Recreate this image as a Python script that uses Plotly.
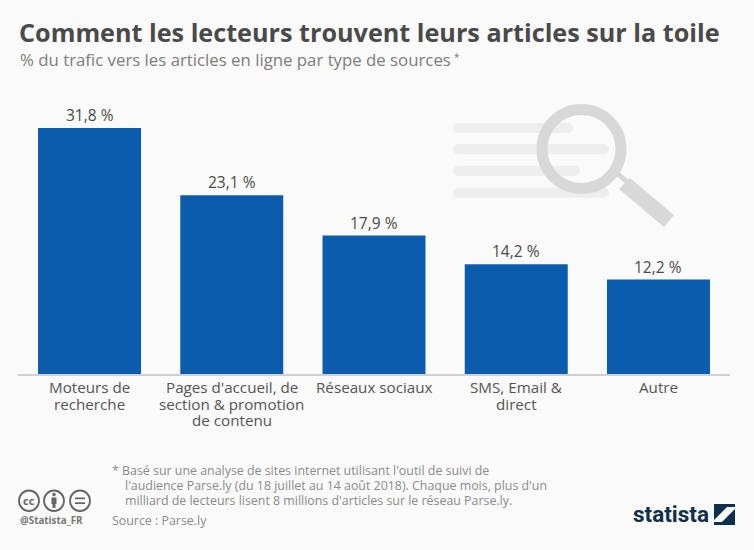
import plotly.graph_objects as go

category_lines = [["Moteurs de", "recherche"], ["Pages d'accueil, de", "section &amp; promotion", "de contenu"],
                  ["Réseaux sociaux"], ["SMS, Email &amp;", "direct"], ["Autre"]]
categories = [" ".join(c) for c in category_lines]
values = [31.8, 23.1, 17.9, 14.2, 12.2]
value_labels = ["31,8 %", "23,1 %", "17,9 %", "14,2 %", "12,2 %"]

W, H = 754, 550
BG = "#fafafa"
FONT = "Open Sans"

def px(x): return x / W
def py(y): return 1 - y / H

fig = go.Figure(go.Bar(
    x=categories, y=values, cliponaxis=False,
    marker=dict(color="#0b5cad", line=dict(width=0)), hoverinfo="skip",
))

shapes = []
def rect(x0, y0, x1, y1, color):
    shapes.append(dict(type="rect", xref="paper", yref="paper", x0=px(x0), x1=px(x1), y0=py(y1), y1=py(y0),
                       fillcolor=color, line=dict(width=0), layer="below"))
def circle(x0, y0, x1, y1, line, width, fill="rgba(0,0,0,0)", layer="below"):
    shapes.append(dict(type="circle", xref="paper", yref="paper", x0=px(x0), x1=px(x1), y0=py(y1), y1=py(y0),
                       fillcolor=fill, line=dict(color=line, width=width), layer=layer))
def seg(x0, y0, x1, y1, color, width, layer="below"):
    shapes.append(dict(type="line", xref="paper", yref="paper", x0=px(x0), x1=px(x1), y0=py(y0), y1=py(y1),
                       line=dict(color=color, width=width), layer=layer))
def poly(pts, color):
    d = "M " + " L ".join(f"{px(a):.5f},{py(b):.5f}" for a, b in pts) + " Z"
    shapes.append(dict(type="path", xref="paper", yref="paper", path=d, fillcolor=color, line=dict(width=0), layer="below"))

# faded text lines behind the magnifier
for y, x1 in [(128, 573), (149, 609), (171, 580), (192.7, 609)]:
    seg(458, y, x1 - 5, y, "#eeeeee", 10)
    circle(453, y - 5, 463, y + 5, "#eeeeee", 0, "#eeeeee")
    circle(x1 - 10, y - 5, x1, y + 5, "#eeeeee", 0, "#eeeeee")
# magnifier
circle(542, 109.5, 621, 188.5, "#d8d8d8", 11)
seg(618, 174, 632, 186, "#d8d8d8", 5)
poly([(630, 178), (674, 215), (664, 227), (619, 189)], "#d8d8d8")

# licence icons
ICON = "#666666"
for cx in (29, 54, 80):
    circle(cx - 10, 490.5, cx + 10, 511, ICON, 1.8)
rect(51.5, 497.5, 56.5, 504, ICON)
rect(52.5, 503, 55.5, 508, ICON)
circle(52.2, 492.8, 55.8, 496.4, ICON, 0, ICON)
rect(75, 497.5, 85, 499.2, ICON)
rect(75, 502.3, 85, 504, ICON)

# logo mark
poly([(714, 504), (735, 504), (735, 507), (727, 507), (720, 514), (714, 520)], "#0f2f4a")
poly([(735, 509), (735, 525), (714, 525), (714, 522), (722, 522), (729, 515)], "#0f2f4a")

def txt(x, y, s, size, color, anchor="left", bold=False, family=FONT, xref="paper"):
    return dict(xref=xref, yref="paper", x=px(x) if xref == "paper" else x, y=py(y),
                text=f"<b>{s}</b>" if bold else s, showarrow=False,
                xanchor=anchor, yanchor="middle", align="left",
                font=dict(family=family, size=size, color=color))

annotations = [
    txt(17, 32, "Comment les lecteurs trouvent leurs articles sur la toile", 25.2, "#4a4a4a", bold=True),
    txt(17.5, 59, "% du trafic vers les articles en ligne par type de sources", 16.8, "#7d7d7d"),
    txt(452, 57, "*", 10, "#7d7d7d"),
    txt(110, 470, "* Basé sur une analyse de sites internet utilisant l'outil de suivi de", 12.4, "#8a8a8a"),
    txt(122.5, 485, "l'audience Parse.ly (du 18 juillet au 14 août 2018). Chaque mois, plus d'un", 12.4, "#8a8a8a"),
    txt(122.5, 500, "milliard de lecteurs lisent 8 millions d'articles sur le réseau Parse.ly.", 12.4, "#8a8a8a"),
    txt(110, 520, "Source : Parse.ly", 12.4, "#8a8a8a"),
    txt(18, 520, "@Statista_FR", 9.8, "#777777", bold=True),
    txt(29, 500.5, "cc", 11, ICON, anchor="center", bold=True),
    txt(631, 514, "statista", 22.5, "#0f2f4a", bold=True, family="Roboto"),
]
# category labels, one line each, so the tight line spacing can be kept
for cat, lines in zip(categories, category_lines):
    for i, line in enumerate(lines):
        annotations.append(txt(cat, 387 + 16.5 * i, line, 15.2, "#555555", anchor="center", xref="x"))
# value labels, placed from the data through the axes
for cat, val, lab in zip(categories, values, value_labels):
    annotations.append(dict(xref="x", yref="y", x=cat, y=val, text=lab, showarrow=False, yanchor="bottom",
                            yshift=0, font=dict(family=FONT, size=15.5, color="#4a4a4a")))

fig.update_layout(
    width=W, height=H, margin=dict(l=0, r=0, t=0, b=0, autoexpand=False),
    paper_bgcolor=BG, plot_bgcolor="rgba(0,0,0,0)", showlegend=False,
    bargap=0.276, shapes=shapes, annotations=annotations,
    font=dict(family=FONT),
    xaxis=dict(domain=[px(18.4), px(729.6)], type="category", showline=True, linecolor="#d0d0d0", linewidth=1.5,
               ticks="", showticklabels=False, showgrid=False, zeroline=False, automargin=False),
    yaxis=dict(domain=[py(374), py(100)], range=[0, 274 / 7.736], visible=False, showgrid=False, zeroline=False),
)
fig.write_html("out.html", post_script="document.body.style.margin='0';", config={"displayModeBar": False})
